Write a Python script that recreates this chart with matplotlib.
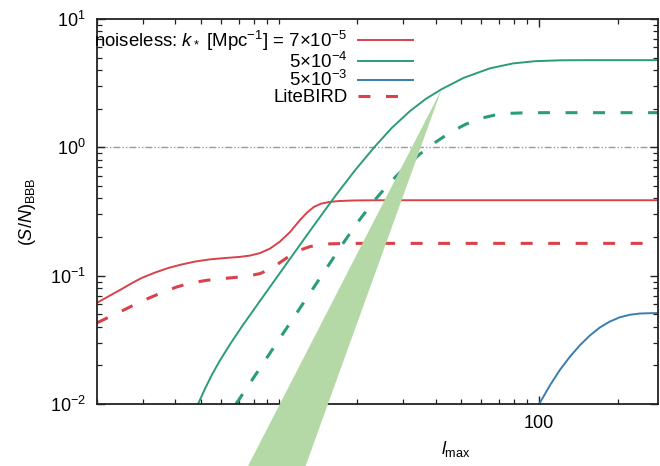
import numpy as np
import matplotlib
matplotlib.use('Agg')
import matplotlib.pyplot as plt
from matplotlib.ticker import FixedLocator, FixedFormatter, LogLocator, NullFormatter
from matplotlib.patches import Polygon

plt.rcParams['font.family'] = ['Liberation Sans', 'DejaVu Sans']
plt.rcParams['mathtext.fontset'] = 'custom'
plt.rcParams['mathtext.rm'] = 'Liberation Sans'
plt.rcParams['mathtext.it'] = 'Liberation Sans:italic'
plt.rcParams['mathtext.bf'] = 'Liberation Sans:bold'

# noiseless, k* = 7e-5
lRed = [2.0, 2.244, 2.495, 2.726, 2.978, 3.34, 3.75, 4.17, 4.76, 5.44, 6.20, 7.09, 7.74, 8.46, 9.24, 10.09, 11.03, 12.05, 12.82, 13.64, 14.51, 15.71, 17.16, 19.6, 24.4, 286]
snRed = [0.0615, 0.070, 0.0789, 0.0876, 0.0962, 0.1057, 0.1146, 0.1214, 0.1288, 0.134, 0.1372, 0.1401, 0.1434, 0.150, 0.1626, 0.1844, 0.2187, 0.2714, 0.3103, 0.3438, 0.364, 0.3759, 0.382, 0.3856, 0.387, 0.387]

# noiseless, k* = 5e-4
lGreen = [4.89, 5.20, 5.53, 5.94, 6.49, 7.21, 8.46, 10.55, 13.16, 16.42, 19.6, 23.4, 27.2, 31.9, 36.7, 42.2, 51.4, 64.7, 79.3, 96.3, 120.1, 156.7, 286]
snGreen = [0.010, 0.01316, 0.01692, 0.0219, 0.0292, 0.0402, 0.0636, 0.1192, 0.2234, 0.415, 0.662, 1.018, 1.424, 1.919, 2.388, 2.84, 3.487, 4.128, 4.507, 4.69, 4.765, 4.78, 4.78]

# noiseless, k* = 5e-3
lBlue = [100, 109.9, 120.1, 131.2, 143.4, 156.6, 171.1, 186.9, 204.2, 223.1, 243.8, 266.2, 286]
snBlue = [0.0100, 0.01396, 0.01844, 0.02336, 0.02873, 0.0342, 0.0395, 0.04395, 0.0474, 0.0496, 0.0507, 0.051, 0.0511]

# LiteBIRD, k* = 7e-5
lRedLB = [2.0, 2.244, 2.562, 2.926, 3.254, 3.65, 4.06, 4.63, 5.29, 6.04, 6.90, 7.74, 8.46, 9.24, 10.09, 11.03, 12.05, 13.16, 14.38, 15.71, 17.94, 22.4, 286]
snRedLB = [0.0429, 0.048, 0.0546, 0.0623, 0.0685, 0.0754, 0.0818, 0.0881, 0.092, 0.0947, 0.0972, 0.100, 0.1038, 0.1125, 0.1265, 0.1434, 0.1583, 0.1685, 0.1744, 0.177, 0.1782, 0.1785, 0.1785]

# LiteBIRD, k* = 5e-4
lGreenLB = [6.84, 8.46, 10.09, 12.05, 14.38, 17.94, 20.48, 23.4, 26.7, 30.5, 34.8, 39.8, 45.4, 51.9, 59.2, 67.6, 77.2, 88.2, 105.2, 150, 286]
snGreenLB = [0.010, 0.01905, 0.0326, 0.0559, 0.0958, 0.1878, 0.2752, 0.3905, 0.5316, 0.696, 0.887, 1.090, 1.304, 1.505, 1.677, 1.785, 1.841, 1.858, 1.862, 1.862, 1.862]

labels = ['noiseless: $k_*$ [Mpc$^{-1}$] = 7\u00d710$^{-5}$', '5\u00d710$^{-4}$', '5\u00d710$^{-3}$', 'LiteBIRD']

red = '#d9414b'
green = '#2b9c78'
blue = '#3a7db0'
dashes = (3.9, 5.1)

fig = plt.figure(figsize=(6.6, 4.66), dpi=100)
ax = fig.add_axes([97/660, 62/466, 561/660, 385/466])

ax.axhline(1.0, color='#9a9a9a', lw=1.0, dashes=(5, 1.5, 1, 1.5, 1, 1.5), zorder=1)
ax.plot(lRed, snRed, color=red, lw=1.4, label=labels[0])
ax.plot(lGreen, snGreen, color=green, lw=1.4, label=labels[1])
ax.plot(lBlue, snBlue, color=blue, lw=1.4, label=labels[2])
ax.plot(lRedLB, snRedLB, color=red, lw=2.2, dashes=dashes, label=labels[3])
ax.plot(lGreenLB, snGreenLB, color=green, lw=2.2, dashes=dashes, label='_nolegend_')

ax.set_xscale('log')
ax.set_yscale('log')
ax.set_xlim(2, 286)
ax.set_ylim(0.01, 10)

ax.xaxis.set_major_locator(FixedLocator([100]))
ax.xaxis.set_major_formatter(FixedFormatter(['100']))
ax.xaxis.set_minor_locator(LogLocator(base=10, subs=np.arange(1, 10)))
ax.xaxis.set_minor_formatter(NullFormatter())
ax.yaxis.set_minor_locator(LogLocator(base=10, subs=np.arange(2, 10)))
ax.yaxis.set_minor_formatter(NullFormatter())
ax.tick_params(which='both', direction='in', top=True, right=True, colors='#222222', labelcolor='black', labelsize=13)
ax.tick_params(which='major', length=6, width=1.0, pad=8)
ax.tick_params(which='minor', length=3.5, width=0.9)
for sp in ax.spines.values():
 sp.set_color('#222222')
 sp.set_linewidth(1.3)

ax.set_xlabel('$l_{\\rm max}$', fontsize=13)
ax.xaxis.set_label_coords(0.64, -0.092)
ax.set_ylabel('$(S/N)_{\\rm BBB}$', fontsize=13)
ax.yaxis.set_label_coords(-0.105, 0.5)

leg = ax.legend(loc='upper left', bbox_to_anchor=(-0.005, 0.975), frameon=False, markerfirst=False,
 fontsize=13.4, handlelength=2.95, handletextpad=0.59, labelspacing=-0.07, borderpad=0, borderaxespad=0)

# light green wedge pointing at the k*=5e-4 curve
apex = ax.transData.transform((lGreen[15], snGreen[15]))
apex = fig.transFigure.inverted().transform(apex)
wedge = Polygon([apex, (0.3758, 0.0), (0.463, 0.0)], closed=True, transform=fig.transFigure,
 facecolor='#b5d9a6', edgecolor='none', zorder=10, clip_on=False)
fig.patches.append(wedge)

fig.savefig('out.png', dpi=100)
